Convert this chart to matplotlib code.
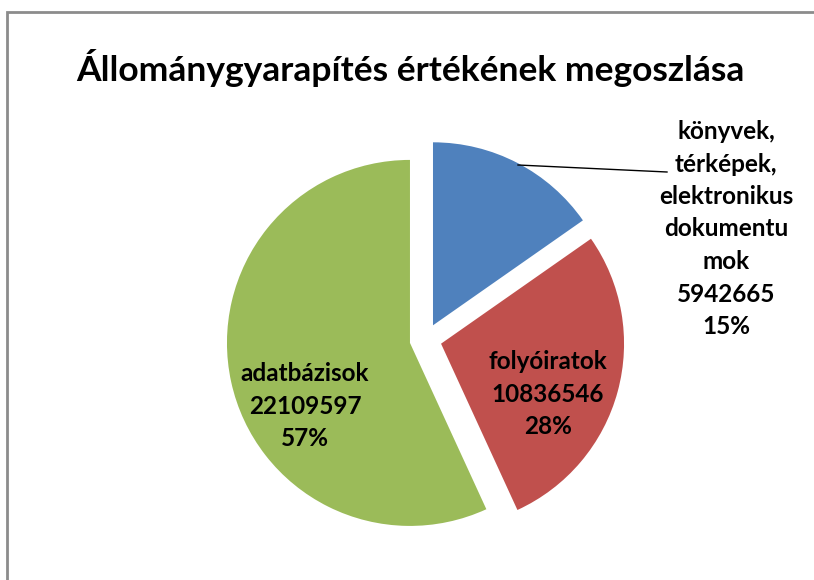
import matplotlib.pyplot as plt
from matplotlib.patches import Rectangle

title = "Állománygyarapítés értékének megoszlása"
categories = ["könyvek,\ntérképek,\nelektronikus\ndokumentu\nmok", "folyóiratok", "adatbázisok"]
values = [5942665, 10836546, 22109597]
colors = ["#4F81BD", "#C0504D", "#9BBB59"]

plt.rcParams['font.family'] = ['Lato', 'DejaVu Sans']

fig = plt.figure(figsize=(8.14, 5.8), dpi=100)
ax = fig.add_axes([0, 0, 1, 1])

# work in pixel units, y measured from the bottom
cx, cy, r = 425.6, 580 - 339.5, 183
total = sum(values)
wedges, _ = ax.pie(values, colors=colors, startangle=90, counterclock=False,
                   explode=[16] * 3, radius=r, center=(cx, cy))
ax.set_xlim(0, 814)
ax.set_ylim(0, 580)
ax.set_aspect('auto')
ax.axis('off')

def label(i):
    return "%s\n%d\n%d%%" % (categories[i], values[i], round(values[i] / total * 100))

txt = dict(fontsize=17.5, fontweight='bold', ha='center', va='center', linespacing=1.5)
ax.text(726, 580 - 229, label(0), **txt)
ax.text(548, 580 - 394, label(1), **txt)
ax.text(305, 580 - 406, label(2), **txt)
ax.plot([518, 667], [580 - 165, 580 - 172], color='black', lw=1)

ax.text(410, 580 - 68, title, fontsize=25.5, fontweight='bold', ha='center', va='center')

fig.patches.append(Rectangle((7, -10), 830, 580 - 12 + 10, transform=None,
                             fill=False, edgecolor='#8c8c8c', lw=2))

fig.savefig("out.png", dpi=100, facecolor='white')
